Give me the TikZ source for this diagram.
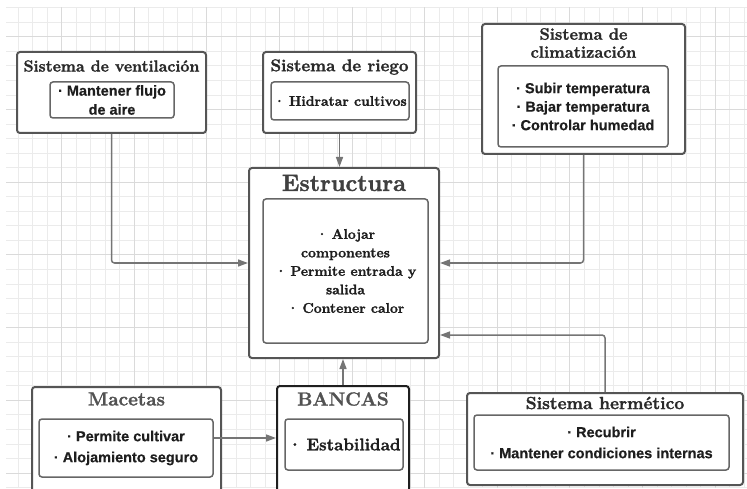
\documentclass[tikz,border=0pt]{standalone}
\usepackage{fontspec}
\newfontfamily\itemsans{Liberation Sans}[BoldFeatures={FakeBold=0.4}]
\newfontfamily\heavyserif{Latin Modern Roman}[BoldFeatures={FakeBold=1.6}]
\usetikzlibrary{arrows.meta, positioning}

\definecolor{gridMinor}{HTML}{EBEBEB}
\definecolor{gridMajor}{HTML}{DADADA}
\definecolor{boxLine}{HTML}{555555}
\definecolor{innerLine}{HTML}{666666}
\definecolor{arrowGray}{HTML}{757575}
\definecolor{titleGray}{HTML}{2A2A2A}
\definecolor{itemDark}{HTML}{1E1E1E}

\begin{document}
\begin{tikzpicture}[
    x=1pt, y=1pt,
    outerbox/.style={draw=boxLine, line width=2pt, rounded corners=3pt, fill=white, inner sep=0pt},
    innerbox/.style={draw=innerLine, line width=1.5pt, rounded corners=3pt, fill=white, inner sep=0pt, align=center, text=itemDark},
    titletext/.style={text=titleGray, align=center, inner sep=0pt, font=\heavyserif\bfseries\fontsize{16}{18}\selectfont},
    itemsans/.style={font=\itemsans\bfseries\fontsize{14.5}{18.5}\selectfont},
    itemserif/.style={font=\heavyserif\bfseries\fontsize{14}{18.5}\selectfont},
    link/.style={draw=arrowGray, line width=1.5pt, rounded corners=3pt, -{Triangle[length=10pt, width=7pt]}}
  ]
    \useasboundingbox (0,0) rectangle (747,488);

    % background grid
    \begin{scope}
      \clip (6,0) rectangle (747,481);
      \foreach \k in {1,...,51}
        \draw[gridMinor, line width=1pt] (3.7+14.52*\k,0) -- (3.7+14.52*\k,481);
      \foreach \j in {0,...,33}
        \draw[gridMinor, line width=1pt] (6,480.2-14.54*\j) -- (747,480.2-14.54*\j);
      \foreach \m in {0,...,9}
        \draw[gridMajor, line width=1pt] (61.7+72.6*\m,0) -- (61.7+72.6*\m,481);
      \foreach \m in {0,...,6}
        \draw[gridMajor, line width=1pt] (6,451.1-72.7*\m) -- (747,451.1-72.7*\m);
    \end{scope}

    % top row
    \node[outerbox, minimum width=189pt, minimum height=81pt] (ventBox) at (111.5,395.5) {};
    \node[titletext] (ventTitle) at (111.5,422) {Sistema de ventilación};
    \node[innerbox, itemsans, font=\itemsans\bfseries\fontsize{14.5}{19}\selectfont, minimum width=124pt, minimum height=36pt] (ventInner) at (112,388) {· Mantener flujo\\de aire};

    \node[outerbox, minimum width=153pt, minimum height=81pt] (riegoBox) at (339.5,395.5) {};
    \node[titletext, font=\heavyserif\bfseries\fontsize{17}{19}\selectfont] (riegoTitle) at (339.5,421) {Sistema de riego};
    \node[innerbox, itemserif, minimum width=138pt, minimum height=38pt] (riegoInner) at (340,387) {·\hspace{0.25em}Hidratar cultivos};

    \node[outerbox, minimum width=203pt, minimum height=130pt] (climBox) at (583.5,399) {};
    \node[titletext, font=\heavyserif\bfseries\fontsize{16.5}{18}\selectfont] (climTitle) at (583.5,445) {Sistema de\\climatización};
    \node[innerbox, itemsans, minimum width=170pt, minimum height=81pt] (climInner) at (583,381.5) {· Subir temperatura\\· Bajar temperatura\\· Controlar humedad};

    % centre
    \node[outerbox, minimum width=190pt, minimum height=190pt] (estrBox) at (344,225) {};
    \node[titletext, font=\heavyserif\bfseries\fontsize{23.5}{26}\selectfont, text=black!75] (estrTitle) at (344,305) {Estructura};
    \node[innerbox, itemserif, minimum width=165pt, minimum height=144pt] (estrInner) at (345.5,217) {·\hspace{0.25em}Alojar\\componentes\\·\hspace{0.25em}Permite entrada y\\salida\\·\hspace{0.25em}Contener calor};

    % bottom row
    \node[outerbox, minimum width=189pt, minimum height=105pt] (macBox) at (126.5,48.5) {};
    \node[titletext, font=\heavyserif\bfseries\fontsize{19}{21}\selectfont, text=black!68] (macTitle) at (126.5,89) {Macetas};
    \node[innerbox, itemsans, font=\itemsans\bfseries\fontsize{14.5}{21}\selectfont, minimum width=174pt, minimum height=58pt] (macInner) at (126,40) {· Permite cultivar\\· Alojamiento seguro};

    \node[outerbox, draw=black!88, minimum width=132pt, minimum height=106pt] (bancasBox) at (343,49) {};
    \node[titletext, font=\heavyserif\bfseries\fontsize{19}{21}\selectfont, text=black!68] (bancasTitle) at (343,89) {BANCAS};
    \node[innerbox, font=\heavyserif\bfseries\fontsize{17}{19}\selectfont, minimum width=118pt, minimum height=51pt] (bancasInner) at (344,43.5) {·\hspace{0.25em}Estabilidad};

    \node[outerbox, minimum width=276pt, minimum height=92pt] (hermBox) at (605,49) {};
    \node[titletext, font=\heavyserif\bfseries\fontsize{17.5}{19}\selectfont] (hermTitle) at (605,85) {Sistema hermético};
    \node[innerbox, itemsans, font=\itemsans\bfseries\fontsize{14.5}{21}\selectfont, minimum width=255pt, minimum height=55pt] (hermInner) at (601.5,45.5) {· Recubrir\\· Mantener condiciones internas};

    % connectors
    \coordinate (hermIn) at ([yshift=24pt]estrBox.south east);
    \coordinate (macOut) at ([yshift=10pt]macInner.east);

    \draw[link] (ventBox.south) |- (estrBox.west);
    \draw[link] (riegoBox.south) -- (riegoBox.south |- estrBox.north);
    \draw[link] (climBox.south) |- (estrBox.east);
    \draw[link] (hermBox.north) |- (hermIn);
    \draw[link] (bancasBox.north) -- (bancasBox.north |- estrBox.south);
    \draw[link] (macOut) -- (macOut -| bancasBox.west);
  \end{tikzpicture}
\end{document}
